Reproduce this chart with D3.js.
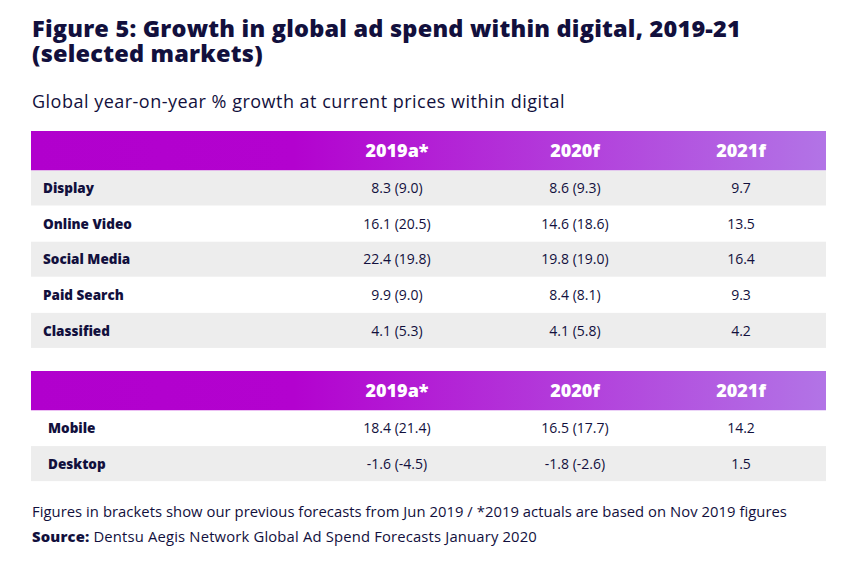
<!DOCTYPE html>
<html><head><meta charset="utf-8">
<script src="https://cdn.jsdelivr.net/npm/d3@7"></script>
<style>html,body{margin:0;padding:0;background:#fff}svg{display:block}</style>
</head><body><div id="chart"></div>
<script>
// ---- data ----
const title1 = "Figure 5: Growth in global ad spend within digital, 2019-21";
const title2 = "(selected markets)";
const subtitle = "Global year-on-year % growth at current prices within digital";
const columns = ["2019a*", "2020f", "2021f"];
const channels = ["Display", "Online Video", "Social Media", "Paid Search", "Classified"];
const ch2019 = [8.3, 16.1, 22.4, 9.9, 4.1];
const ch2019prev = [9.0, 20.5, 19.8, 9.0, 5.3];
const ch2020 = [8.6, 14.6, 19.8, 8.4, 4.1];
const ch2020prev = [9.3, 18.6, 19.0, 8.1, 5.8];
const ch2021 = [9.7, 13.5, 16.4, 9.3, 4.2];
const devices = ["Mobile", "Desktop"];
const dev2019 = [18.4, -1.6];
const dev2019prev = [21.4, -4.5];
const dev2020 = [16.5, -1.8];
const dev2020prev = [17.7, -2.6];
const dev2021 = [14.2, 1.5];
const footnote = "Figures in brackets show our previous forecasts from Jun 2019 / *2019 actuals are based on Nov 2019 figures";
const sourceLabel = "Source:";
const sourceText = " Dentsu Aegis Network Global Ad Spend Forecasts January 2020";

// ---- layout ----
const W = 863, H = 562;
const navy = "#12103d";
const FONT = "'Open Sans', Lato, sans-serif";
const svg = d3.select("#chart").append("svg").attr("width", W).attr("height", H)
  .style("font-family", FONT);

// adjust letter spacing so a text spans a target width
function fit(sel, target) {
  const node = sel.node();
  const len = node.getComputedTextLength();
  const n = node.textContent.length;
  sel.attr("letter-spacing", ((target - len) / n).toFixed(3));
}

const defs = svg.append("defs");
const grad = defs.append("linearGradient").attr("id", "hdr").attr("x1", "0").attr("x2", "1").attr("y1", "0").attr("y2", "0");
grad.append("stop").attr("offset", "0%").attr("stop-color", "#b100cd");
grad.append("stop").attr("offset", "33%").attr("stop-color", "#b302cf");
grad.append("stop").attr("offset", "100%").attr("stop-color", "#b274e6");

const t = svg.append("text").attr("fill", navy).attr("font-size", 23.5).attr("font-weight", 800);
const t1 = t.append("tspan").attr("x", 32).attr("y", 37).text(title1);
const t2 = t.append("tspan").attr("x", 32).attr("y", 62).text(title2);
{
  const len = t1.node().getComputedTextLength();
  const ls = (709 - len) / title1.length;
  t1.attr("letter-spacing", ls); t2.attr("letter-spacing", ls);
}
fit(svg.append("text").attr("x", 32).attr("y", 108).attr("fill", navy)
  .attr("font-size", 18).text(subtitle), 533);

const x = d3.scaleOrdinal().domain(columns).range([397, 575, 741]);
const fmt = v => v.toFixed(1);

function drawTable(top, labels, cols, labelX, firstGray) {
  const headerH = 39.5;
  const y = d3.scaleBand().domain(labels)
    .range([top + headerH, top + headerH + labels.length * 35.6]);
  const g = svg.append("g");
  g.append("rect").attr("x", 31).attr("y", top).attr("width", 795).attr("height", headerH)
    .attr("fill", "url(#hdr)");
  g.selectAll("text.hdr").data(columns).join("text")
    .attr("class", "hdr")
    .attr("x", d => x(d)).attr("y", top + headerH / 2 + 6.5)
    .attr("text-anchor", "middle").attr("fill", "#fff")
    .attr("font-size", 18).attr("font-weight", 800).text(d => d);
  const rows = g.selectAll("g.row").data(labels).join("g").attr("class", "row")
    .attr("transform", d => `translate(0,${y(d)})`);
  rows.append("rect").attr("x", 31).attr("y", 0).attr("width", 795)
    .attr("height", y.bandwidth() - 0.6)
    .attr("fill", (d, i) => ((i % 2 === 0) === firstGray) ? "#ededed" : "#fff");
  rows.append("text").attr("x", labelX).attr("y", y.bandwidth() / 2 + 5)
    .attr("fill", navy).attr("font-size", 13.5).attr("font-weight", 800).text(d => d);
  columns.forEach((c, ci) => {
    rows.append("text").attr("x", x(c)).attr("y", y.bandwidth() / 2 + 5)
      .attr("text-anchor", "middle").attr("fill", navy).attr("font-size", 14)
      .text((d, i) => cols[ci].prev ? `${fmt(cols[ci].cur[i])} (${fmt(cols[ci].prev[i])})` : fmt(cols[ci].cur[i]));
  });
}

drawTable(131, channels, [
  {cur: ch2019, prev: ch2019prev},
  {cur: ch2020, prev: ch2020prev},
  {cur: ch2021}
], 43, true);
drawTable(371, devices, [
  {cur: dev2019, prev: dev2019prev},
  {cur: dev2020, prev: dev2020prev},
  {cur: dev2021}
], 48, false);

fit(svg.append("text").attr("x", 32).attr("y", 517).attr("fill", navy)
  .attr("font-size", 14.8).text(footnote), 755);
const src = svg.append("text").attr("x", 32).attr("y", 542).attr("fill", navy).attr("font-size", 14.8);
src.append("tspan").attr("font-weight", 800).text(sourceLabel);
src.append("tspan").text(sourceText);
fit(src, 505);
</script></body></html>
